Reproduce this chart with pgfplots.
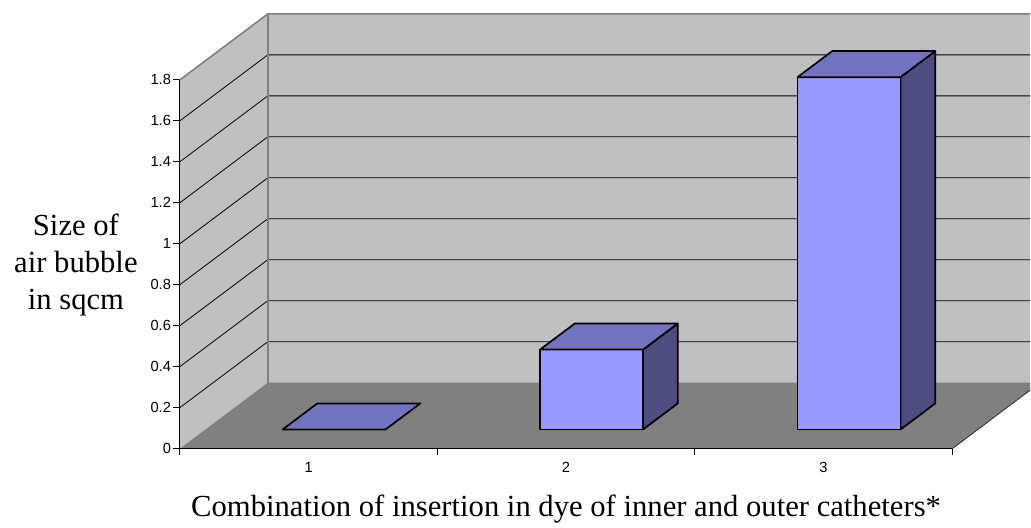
\documentclass[border=0pt]{standalone}
\usepackage{fontspec}
\setmainfont{Liberation Serif}
\newfontfamily\arialfont{Liberation Sans}
\usepackage{pgfplots}
\pgfplotsset{compat=1.18}
\usepackage{pgfplotstable}
\definecolor{wall}{HTML}{C0C0C0}
\definecolor{floorc}{HTML}{808080}
\definecolor{edgec}{HTML}{808080}
\definecolor{barfront}{HTML}{9999FF}
\definecolor{bartop}{HTML}{7373BF}
\definecolor{barside}{HTML}{4D4D80}

% unit square used to build each face of a bar
\pgfplotstableread{
u w
0 0
1 0
1 1
0 1
}\sq

\begin{document}
\begin{tikzpicture}
\begin{axis}[
  x=193.25bp, y=153.75bp,
  xmin=0.5, xmax=3.8027, ymin=0, ymax=2.122,
  enlargelimits=false, clip=false,
  axis lines=left,
  axis line style={draw=none},
  x axis line style={draw=none},
  y axis line style={draw=none},
  tick style={black, line width=0.6bp},
  tick align=outside,
  major tick length=5bp,
  xtick={0.5,1.5,2.5,3.5},
  x tick label as interval,
  xticklabels={1,2,3},
  ytick={0,0.2,0.4,0.6,0.8,1,1.2,1.4,1.6,1.8},
  tick label style={font=\arialfont\fontsize{11bp}{13bp}\selectfont},
  /pgf/number format/assume math mode=true,
  xticklabel style={yshift=-1.5bp},
  yticklabel style={inner xsep=1.5bp},
  xlabel={Combination of insertion in dye of inner and outer catheters*},
  ylabel={Size of\\air bubble\\in sqcm},
  every axis x label/.style={at={(axis description cs:0.4542,-0.1555)}, anchor=base,
     font=\fontsize{23bp}{27.75bp}\selectfont},
  every axis y label/.style={at={(axis description cs:-0.1222,0.4218)}, anchor=center,
     align=center, font=\fontsize{23bp}{27.75bp}\selectfont},
]
% fix the picture's extent to the reference frame
\path (axis cs:-0.1985,-0.3707) rectangle (axis cs:3.8027,2.190);

% back wall, left wall, floor
\addplot[fill=wall, draw=none, forget plot] coordinates {(0.8415,0.322) (3.8027,0.322) (3.8027,2.122) (0.8415,2.122)} -- cycle;
\addplot[fill=wall, draw=none, forget plot] coordinates {(0.5,0) (0.8415,0.322) (0.8415,2.122) (0.5,1.8)} -- cycle;
\addplot[fill=floorc, draw=none, forget plot] coordinates {(0.5,0) (3.5,0) (3.8027,0.2854) (3.8027,0.322) (0.8415,0.322)} -- cycle;

% gridlines on left and back walls
\addplot[black, line width=0.6bp, forget plot] coordinates {(0.5,0.2) (0.8415,0.522) (3.8027,0.522)};
\addplot[black, line width=0.6bp, forget plot] coordinates {(0.5,0.4) (0.8415,0.722) (3.8027,0.722)};
\addplot[black, line width=0.6bp, forget plot] coordinates {(0.5,0.6) (0.8415,0.922) (3.8027,0.922)};
\addplot[black, line width=0.6bp, forget plot] coordinates {(0.5,0.8) (0.8415,1.122) (3.8027,1.122)};
\addplot[black, line width=0.6bp, forget plot] coordinates {(0.5,1.0) (0.8415,1.322) (3.8027,1.322)};
\addplot[black, line width=0.6bp, forget plot] coordinates {(0.5,1.2) (0.8415,1.522) (3.8027,1.522)};
\addplot[black, line width=0.6bp, forget plot] coordinates {(0.5,1.4) (0.8415,1.722) (3.8027,1.722)};
\addplot[black, line width=0.6bp, forget plot] coordinates {(0.5,1.6) (0.8415,1.922) (3.8027,1.922)};

% wall edges
\addplot[edgec, line width=1.2bp, forget plot] coordinates {(0.5,1.8) (0.8415,2.122) (3.8027,2.122)};
\addplot[edgec, line width=1.2bp, forget plot] coordinates {(0.8415,0.322) (0.8415,2.122)};
\addplot[black!85, line width=0.6bp, forget plot] coordinates {(3.5,0) (3.8027,0.2854)};

% front axis lines
\addplot[black, line width=0.8bp, forget plot] coordinates {(0.5,1.8) (0.5,0) (3.5,0)};

% bars: category c, value v (1: 0, 2: 0.39, 3: 1.72)
% category 1, value 0 (flat)
\addplot[fill=bartop, draw=black, line width=1.3bp, line join=round, forget plot]
  table[x expr={1-0.101+0.4*\thisrow{u}+0.1349*\thisrow{w}}, y expr={0.0934+0+0.1272*\thisrow{w}}] {\sq} -- cycle;
% category 2, value 0.39
\addplot[fill=barside, draw=black, line width=1.3bp, line join=round, forget plot]
  table[x expr={2+0.299+0.1349*\thisrow{u}}, y expr={0.0934+0.1272*\thisrow{u}+0.39*\thisrow{w}}] {\sq} -- cycle;
\addplot[fill=barfront, draw=black, line width=1.3bp, line join=round, forget plot]
  table[x expr={2-0.101+0.4*\thisrow{u}}, y expr={0.0934+0.39*\thisrow{w}}] {\sq} -- cycle;
\addplot[fill=bartop, draw=black, line width=1.3bp, line join=round, forget plot]
  table[x expr={2-0.101+0.4*\thisrow{u}+0.1349*\thisrow{w}}, y expr={0.0934+0.39+0.1272*\thisrow{w}}] {\sq} -- cycle;
% category 3, value 1.72
\addplot[fill=barside, draw=black, line width=1.3bp, line join=round, forget plot]
  table[x expr={3+0.299+0.1349*\thisrow{u}}, y expr={0.0934+0.1272*\thisrow{u}+1.72*\thisrow{w}}] {\sq} -- cycle;
\addplot[fill=barfront, draw=black, line width=1.3bp, line join=round, forget plot]
  table[x expr={3-0.101+0.4*\thisrow{u}}, y expr={0.0934+1.72*\thisrow{w}}] {\sq} -- cycle;
\addplot[fill=bartop, draw=black, line width=1.3bp, line join=round, forget plot]
  table[x expr={3-0.101+0.4*\thisrow{u}+0.1349*\thisrow{w}}, y expr={0.0934+1.72+0.1272*\thisrow{w}}] {\sq} -- cycle;
\end{axis}
\end{tikzpicture}
\end{document}
